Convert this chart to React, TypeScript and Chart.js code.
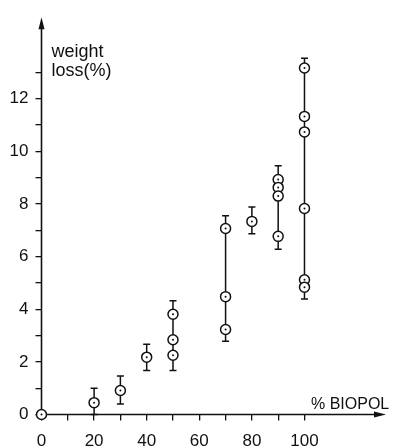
import React, { useEffect, useRef } from "react";
import { Chart, registerables } from "chart.js";

Chart.register(...registerables);

// % BIOPOL of each measured sample
const biopolPct = [0, 20, 30, 40, 50, 50, 50, 70, 70, 70, 80, 90, 90, 90, 90, 100, 100, 100, 100, 100, 100];
// weight loss (%) of each sample
const weightLoss = [0, 0.45, 0.91, 2.18, 3.81, 2.84, 2.25, 7.07, 4.48, 3.23, 7.34, 8.93, 8.63, 8.3, 6.77, 13.17, 11.33, 10.74, 7.83, 5.12, 4.84];
// range bars per composition
const rangeX = [20, 30, 40, 50, 70, 80, 90, 100];
const rangeLow = [0, 0.4, 1.67, 1.67, 2.78, 6.87, 6.28, 4.39];
const rangeHigh = [1.0, 1.46, 2.67, 4.32, 7.55, 7.89, 9.45, 13.54];
// axis labels
const xTickLabels = [0, 20, 40, 60, 80, 100];
const yTickLabels = [0, 2, 4, 6, 8, 10, 12];
const xTitle = "% BIOPOL";
const yTitle = ["weight", "loss(%)"];

const INK = "#111";
const FONT = "Liberation Sans, Arial, sans-serif";

const decorPlugin = {
  id: "decor",
  beforeDatasetsDraw(chart: any) {
    const { ctx, scales } = chart;
    const xs = scales.x;
    const ys = scales.y;
    ctx.save();
    ctx.strokeStyle = INK;
    ctx.lineWidth = 1.5;
    // range bars
    for (let i = 0; i < rangeX.length; i++) {
      const px = xs.getPixelForValue(rangeX[i]);
      const pLo = ys.getPixelForValue(rangeLow[i]);
      const pHi = ys.getPixelForValue(rangeHigh[i]);
      ctx.beginPath();
      ctx.moveTo(px, pLo);
      ctx.lineTo(px, pHi);
      ctx.moveTo(px - 3.5, pLo);
      ctx.lineTo(px + 3.5, pLo);
      ctx.moveTo(px - 3.5, pHi);
      ctx.lineTo(px + 3.5, pHi);
      ctx.stroke();
    }
    // axes with arrows
    const x0 = xs.getPixelForValue(0);
    const y0 = ys.getPixelForValue(0);
    const xEnd = xs.right;
    const yEnd = ys.top;
    ctx.lineWidth = 1.6;
    ctx.beginPath();
    ctx.moveTo(x0, y0);
    ctx.lineTo(xEnd - 6, y0);
    ctx.moveTo(x0, y0);
    ctx.lineTo(x0, yEnd + 6);
    ctx.stroke();
    ctx.fillStyle = INK;
    ctx.beginPath();
    ctx.moveTo(xEnd, y0);
    ctx.lineTo(xEnd - 12, y0 - 3);
    ctx.lineTo(xEnd - 12, y0 + 3);
    ctx.closePath();
    ctx.fill();
    ctx.beginPath();
    ctx.moveTo(x0, yEnd);
    ctx.lineTo(x0 - 3, yEnd + 12);
    ctx.lineTo(x0 + 3, yEnd + 12);
    ctx.closePath();
    ctx.fill();
    // titles
    ctx.textAlign = "left";
    ctx.textBaseline = "alphabetic";
    ctx.font = `18px ${FONT}`;
    ctx.fillText(yTitle[0], x0 + 10, 56.5);
    ctx.fillText(yTitle[1], x0 + 10, 75.5);
    ctx.font = `16px ${FONT}`;
    ctx.fillText(xTitle, 311, 409);
    ctx.restore();
  },
};

export default function App() {
  const ref = useRef<HTMLCanvasElement>(null);
  useEffect(() => {
    if (!ref.current) return;
    const points = biopolPct.map((x, i) => ({ x, y: weightLoss[i] }));
    const tickColor = (lim: number) => (c: any) =>
      c.tick && c.tick.value <= lim ? INK : "rgba(0,0,0,0)";
    const chart = new Chart(ref.current, {
      type: "scatter",
      data: {
        datasets: [
          {
            data: points,
            pointRadius: 1,
            pointBackgroundColor: INK,
            pointBorderWidth: 0,
            clip: false,
          },
          {
            data: points,
            pointStyle: "circle",
            pointRadius: 5,
            pointBackgroundColor: "#fff",
            pointBorderColor: INK,
            pointBorderWidth: 1.5,
            clip: false,
          },
        ],
      },
      options: {
        responsive: false,
        animation: false,
        events: [],
        layout: { padding: { top: 15, right: 10, left: 0, bottom: 0 } },
        plugins: { legend: { display: false }, tooltip: { enabled: false } },
        scales: {
          x: {
            type: "linear",
            min: 0,
            max: 131,
            afterFit: (s: any) => {
              s.height = 33.5;
            },
            afterBuildTicks: (s: any) => {
              s.ticks = [];
              for (let v = 0; v <= 100; v += 10) s.ticks.push({ value: v });
            },
            border: { display: false },
            grid: {
              drawOnChartArea: false,
              drawTicks: true,
              tickLength: 6,
              lineWidth: 1.3,
              color: tickColor(100),
            },
            ticks: {
              color: INK,
              font: { family: FONT, size: 17 },
              padding: 11,
              maxRotation: 0,
              autoSkip: false,
              callback: (v: any) => (xTickLabels.includes(Number(v)) ? String(v) : ""),
            },
          },
          y: {
            type: "linear",
            min: 0,
            max: 15.1,
            afterFit: (s: any) => {
              s.width = 41.5;
            },
            afterBuildTicks: (s: any) => {
              s.ticks = [];
              for (let v = 0; v <= 13; v += 1) s.ticks.push({ value: v });
            },
            border: { display: false },
            grid: {
              drawOnChartArea: false,
              drawTicks: true,
              tickLength: 6,
              lineWidth: 1.3,
              color: tickColor(13),
            },
            ticks: {
              color: INK,
              font: { family: FONT, size: 17 },
              padding: 7,
              autoSkip: false,
              callback: (v: any) => (yTickLabels.includes(Number(v)) ? String(v) : ""),
            },
          },
        },
      },
      plugins: [decorPlugin],
    } as any);
    return () => chart.destroy();
  }, []);
  return (
    <div style={{ position: "absolute", left: 0, top: 0, width: 396, height: 448, background: "#fff" }}>
      <canvas ref={ref} width={396} height={448} style={{ display: "block" }} />
    </div>
  );
}
